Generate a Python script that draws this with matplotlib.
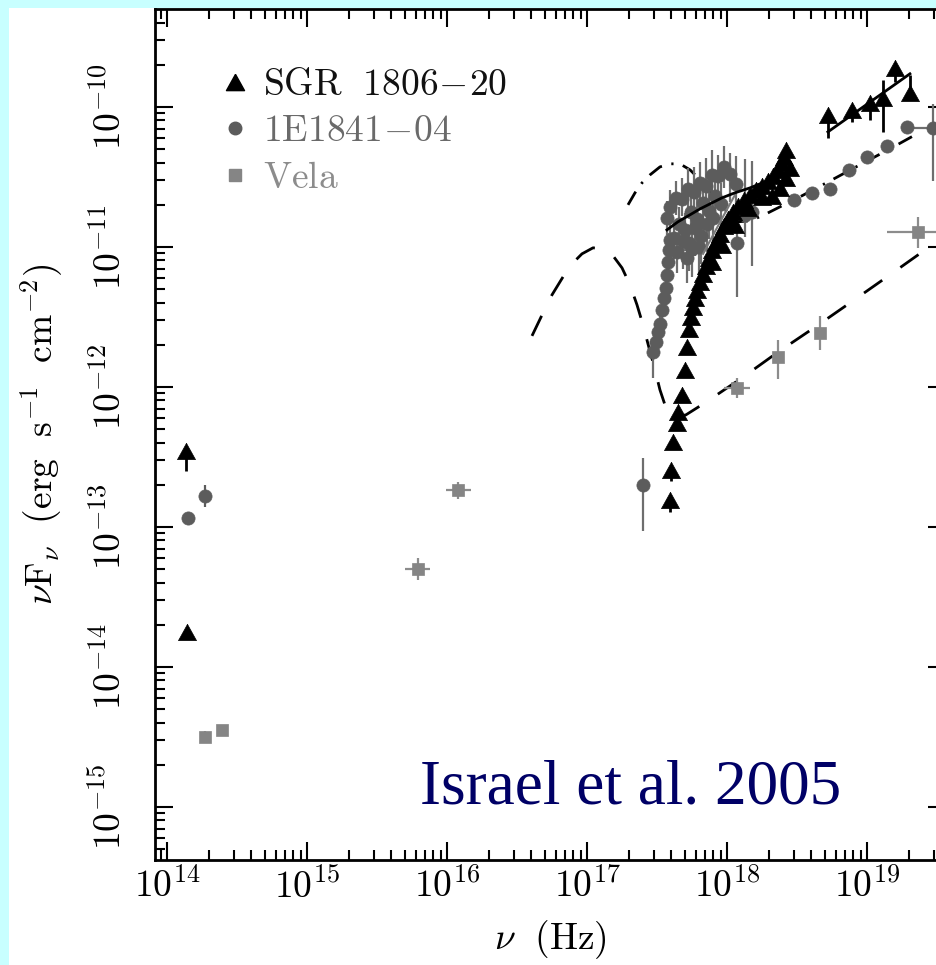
import numpy as np
import matplotlib
matplotlib.use('Agg')
import matplotlib.pyplot as plt
from matplotlib.lines import Line2D
from matplotlib.patches import Rectangle
from matplotlib.ticker import FixedLocator, FuncFormatter, NullFormatter

plt.rcParams['mathtext.fontset'] = 'cm'

# all values as log10(nu / Hz) and log10(nuFnu / erg s^-1 cm^-2); errors in dex

# ---- SGR 1806-20 ----
sgr_ir_lognu = [14.136, 14.143]
sgr_ir_logf = [-12.46, -13.75]
sgr_ir_dlo = [0.14, 0.02]
sgr_ir_dhi = [0.03, 0.02]

sgr_x_lognu = [17.593, 17.600, 17.614, 17.643, 17.650, 17.679, 17.700, 17.714,
               17.729, 17.743, 17.757, 17.771, 17.786, 17.807, 17.829, 17.850,
               17.871, 17.893, 17.921, 17.950, 17.979, 18.007, 18.043, 18.079,
               18.121, 18.164, 18.207, 18.250, 18.293, 18.329, 18.364, 18.386,
               18.407, 18.421, 18.321, 18.379, 18.421, 18.450,
               17.893, 17.964, 18.057, 18.150, 18.250]
sgr_x_logf = [-12.807, -12.593, -12.393, -12.257, -12.179, -12.057, -11.879, -11.714,
              -11.586, -11.500, -11.429, -11.364, -11.307, -11.250, -11.193, -11.136,
              -11.079, -11.021, -10.964, -10.907, -10.850, -10.800, -10.750, -10.707,
              -10.664, -10.629, -10.593, -10.564, -10.529, -10.493, -10.450, -10.400,
              -10.357, -10.307, -10.636, -10.579, -10.507, -10.436,
              -11.107, -10.986, -10.843, -10.721, -10.643]

sgr_hard_lognu = [18.721, 18.893, 19.021, 19.114, 19.200, 19.307]
sgr_hard_logf = [-10.057, -10.021, -9.971, -9.936, -9.721, -9.900]
sgr_hard_dlo = [0.164, 0.086, 0.121, 0.243, 0.100, 0.050]
sgr_hard_dhi = [0.036, 0.030, 0.030, 0.129, 0.030, 0.129]

sgr_pl_lognu = [18.721, 19.307]
sgr_pl_logf = [-10.179, -9.764]

# ---- 1E1841-04 ----
axp_ir_lognu = [14.150, 14.270]
axp_ir_logf = [-12.936, -12.779]
axp_ir_dlo = [0.03, 0.08]
axp_ir_dhi = [0.03, 0.08]

axp_x_lognu = [17.400,
               17.471, 17.493, 17.507, 17.521, 17.536, 17.550, 17.564, 17.571, 17.579, 17.586, 17.593,
               17.593, 17.636, 17.679, 17.721, 17.764, 17.807, 17.850, 17.893, 17.936, 17.979, 18.021, 18.064,
               17.571, 17.621, 17.657, 17.700, 17.743, 17.786, 17.829, 17.871, 17.914, 17.957,
               17.729, 17.771, 17.814, 17.857, 17.900, 17.643, 17.686, 17.714, 17.750, 17.800,
               18.071, 18.129, 18.179]
axp_x_logf = [-12.700,
              -11.750, -11.679, -11.607, -11.550, -11.450, -11.364, -11.293, -11.200, -11.107, -11.021, -10.950,
              -10.714, -10.650, -10.657, -10.586, -10.607, -10.543, -10.564, -10.486, -10.493, -10.429, -10.479, -10.550,
              -10.793, -10.936, -10.836, -10.879, -10.750, -10.800, -10.686, -10.743, -10.636, -10.693,
              -10.971, -10.864, -10.921, -10.836, -10.793, -11.036, -10.957, -11.079, -11.014, -11.000,
              -10.971, -10.771, -10.750]
axp_x_dlo = [0.33,
             0.19, 0.10, 0.10, 0.10, 0.12, 0.10, 0.12, 0.10, 0.12, 0.12, 0.12,
             0.12, 0.12, 0.12, 0.15, 0.15, 0.18, 0.20, 0.20, 0.15, 0.15, 0.20, 0.25,
             0.12, 0.15, 0.15, 0.15, 0.15, 0.18, 0.20, 0.20, 0.18, 0.20,
             0.20, 0.20, 0.20, 0.20, 0.20, 0.15, 0.20, 0.18, 0.20, 0.25,
             0.39, 0.16, 0.39]
axp_x_dhi = [0.19,
             0.09, 0.08, 0.08, 0.08, 0.10, 0.08, 0.10, 0.10, 0.10, 0.12, 0.12,
             0.12, 0.12, 0.15, 0.15, 0.18, 0.15, 0.20, 0.18, 0.15, 0.15, 0.15, 0.20,
             0.12, 0.12, 0.12, 0.12, 0.15, 0.15, 0.15, 0.15, 0.15, 0.15,
             0.12, 0.12, 0.15, 0.15, 0.15, 0.12, 0.12, 0.12, 0.12, 0.12,
             0.10, 0.40, 0.36]

axp_hard_lognu = [18.479, 18.607, 18.736, 18.871, 19.000, 19.143, 19.286, 19.471]
axp_hard_logf = [-10.664, -10.614, -10.586, -10.450, -10.357, -10.279, -10.143, -10.150]
axp_hard_dlo = [0.03, 0.03, 0.03, 0.03, 0.03, 0.03, 0.03, 0.38]
axp_hard_dhi = [0.03, 0.03, 0.03, 0.03, 0.03, 0.03, 0.03, 0.17]
axp_hard_dnu = [0.0, 0.0, 0.0, 0.0, 0.0, 0.0, 0.0, 0.15]

# ---- Vela ----
vela_lognu = [14.270, 14.390, 15.790, 16.080, 18.071, 18.364, 18.664, 19.364]
vela_logf = [-14.500, -14.450, -13.300, -12.740, -12.007, -11.786, -11.614, -10.893]
vela_dlo = [0.04, 0.03, 0.08, 0.06, 0.07, 0.16, 0.12, 0.114]
vela_dhi = [0.04, 0.03, 0.08, 0.06, 0.07, 0.12, 0.12, 0.107]
vela_dnu = [0.03, 0.03, 0.09, 0.09, 0.09, 0.03, 0.03, 0.22]

# ---- model curves ----
sgr_fit_lognu = [17.571, 17.650, 17.736, 17.807, 17.879, 17.964, 18.057, 18.164, 18.271, 18.379]
sgr_fit_logf = [-10.879, -10.821, -10.771, -10.729, -10.693, -10.650, -10.614, -10.579, -10.536, -10.486]

sgr_soft_lognu = [17.829, 17.893, 17.979, 18.057]
sgr_soft_logf = [-11.050, -10.930, -10.771, -10.629]

axp_mod_lognu = [17.293, 17.343, 17.393, 17.450, 17.521, 17.593, 17.664, 17.736, 17.807,
                 17.893, 17.986, 18.079, 18.164, 18.250, 18.379, 18.521, 18.736, 18.950,
                 19.164, 19.357]
axp_mod_logf = [-10.700, -10.614, -10.543, -10.486, -10.429, -10.407, -10.407, -10.450, -10.521,
                -10.629, -10.736, -10.821, -10.814, -10.779, -10.714, -10.643, -10.529, -10.414,
                -10.300, -10.193]

vela_mod_lognu = [16.607, 16.679, 16.750, 16.829, 16.893, 16.964, 17.043, 17.114, 17.186,
                  17.250, 17.307, 17.357, 17.400, 17.443, 17.486, 17.521, 17.557, 17.593,
                  17.636, 17.707, 17.843, 18.107, 18.357, 18.643, 18.879, 19.164, 19.436,
                  19.600]
vela_mod_logf = [-11.636, -11.486, -11.343, -11.214, -11.121, -11.050, -11.007, -11.014, -11.064,
                 -11.150, -11.271, -11.414, -11.557, -11.721, -11.879, -12.021, -12.129, -12.193,
                 -12.214, -12.200, -12.114, -11.936, -11.757, -11.564, -11.400, -11.200, -11.007,
                 -11.000]

c_sgr = 'black'
c_axp = '#5c5c5c'
c_vela = '#858585'


def lin(a):
    return 10.0 ** np.asarray(a, dtype=float)


def points(ax, lognu, logf, dlo, dhi, dnu, color, marker, ms, ecolor, elw, z):
    lognu = np.asarray(lognu, dtype=float)
    logf = np.asarray(logf, dtype=float)
    nu, f = lin(lognu), lin(logf)
    yerr = [f - lin(logf - np.asarray(dlo)), lin(logf + np.asarray(dhi)) - f]
    xerr = None
    if dnu is not None:
        dnu = np.asarray(dnu, dtype=float)
        xerr = [nu - lin(lognu - dnu), lin(lognu + dnu) - nu]
    ax.errorbar(nu, f, yerr=yerr, xerr=xerr, fmt='none', ecolor=ecolor,
                elinewidth=elw, capsize=0, zorder=z)
    ax.plot(nu, f, ls='none', marker=marker, ms=ms, color=color,
            mec=color, mew=0.5, zorder=z + 0.5)


tri = [(0, 0.9), (-1, -0.9), (1, -0.9), (0, 0.9)]

fig = plt.figure(figsize=(9.37, 9.65), dpi=100)
fig.patch.set_facecolor('#c8ffff')
fig.patches.append(Rectangle((9 / 937, 0), 1, 1 - 8 / 965, transform=fig.transFigure,
                             facecolor='white', edgecolor='none', zorder=-10))

ax = fig.add_axes([155 / 937, 1 - 860 / 965, 791 / 937, 851 / 965])
ax.set_xscale('log')
ax.set_yscale('log')
ax.set_xlim(8.2e13, 3.67e19)
ax.set_ylim(4.17e-16, 5.0e-10)

# models
ax.plot(lin(vela_mod_lognu), lin(vela_mod_logf), color='black', lw=2, dashes=(8, 8), zorder=2)
ax.plot(lin(axp_mod_lognu), lin(axp_mod_logf), color='black', lw=2,
        dashes=(5.5, 3.5, 0.8, 3.5), zorder=2)

# data
points(ax, vela_lognu, vela_logf, vela_dlo, vela_dhi, vela_dnu, c_vela, 's', 9, '#8c8c8c', 1.6, 3)
points(ax, axp_ir_lognu, axp_ir_logf, axp_ir_dlo, axp_ir_dhi, None, c_axp, 'o', 9.5, c_axp, 1.6, 3)
points(ax, axp_x_lognu, axp_x_logf, axp_x_dlo, axp_x_dhi, None, c_axp, 'o', 9.5, '#6e6e6e', 1.6, 3)
points(ax, axp_hard_lognu, axp_hard_logf, axp_hard_dlo, axp_hard_dhi, axp_hard_dnu,
       c_axp, 'o', 9.5, '#6e6e6e', 1.6, 3)

ax.plot(lin(sgr_soft_lognu), lin(sgr_soft_logf), color='#7a7a7a', lw=1.5, zorder=4)
ax.plot(lin(sgr_fit_lognu), lin(sgr_fit_logf), color='black', lw=2, zorder=4.2)

points(ax, sgr_ir_lognu, sgr_ir_logf, sgr_ir_dlo, sgr_ir_dhi, None, c_sgr, tri, 13, c_sgr, 2, 5)
points(ax, sgr_x_lognu, sgr_x_logf, [0.09, 0.08] + [0.03] * (len(sgr_x_logf) - 2),
       [0.02] * len(sgr_x_logf), None, c_sgr, tri, 13, c_sgr, 2, 5)
points(ax, sgr_hard_lognu, sgr_hard_logf, sgr_hard_dlo, sgr_hard_dhi, None, c_sgr, tri, 13, c_sgr, 2, 5)
ax.plot(lin(sgr_pl_lognu), lin(sgr_pl_logf), color='black', lw=2, zorder=6)

# axes styling
for s in ax.spines.values():
    s.set_linewidth(2)
xmaj = [10.0 ** k for k in range(14, 20)]
ymaj = [10.0 ** k for k in range(-15, -9)]
xmin = [m * 10.0 ** k for k in range(13, 20) for m in range(2, 10) if 8.2e13 < m * 10.0 ** k < 3.6e19]
ymin = [m * 10.0 ** k for k in range(-16, -9) for m in range(2, 10) if 4.2e-16 < m * 10.0 ** k < 4.9e-10]
ax.xaxis.set_major_locator(FixedLocator(xmaj))
ax.yaxis.set_major_locator(FixedLocator(ymaj))
ax.xaxis.set_minor_locator(FixedLocator(xmin))
ax.yaxis.set_minor_locator(FixedLocator(ymin))
powfmt = FuncFormatter(lambda v, p: r'$10^{%d}$' % int(round(np.log10(v))))
ax.xaxis.set_major_formatter(powfmt)
ax.yaxis.set_major_formatter(powfmt)
ax.xaxis.set_minor_formatter(NullFormatter())
ax.yaxis.set_minor_formatter(NullFormatter())
ax.tick_params(which='both', direction='in', top=True, right=True, width=1.5, labelsize=27)
ax.tick_params(which='major', length=13)
ax.tick_params(which='minor', length=7)
ax.tick_params(axis='x', pad=6)
ax.tick_params(axis='y', pad=19, labelrotation=90)
for lbl in ax.get_yticklabels():
    lbl.set_va('center')

ax.set_xlabel(r'$\nu\ \ \mathrm{(Hz)}$', fontsize=27, labelpad=9)
ax.set_ylabel(r'$\nu\mathrm{F}_\nu\ \ \mathrm{(erg\ \ s^{-1}\ \ cm^{-2})}$', fontsize=27, labelpad=19)

handles = [Line2D([], [], ls='none', marker=tri, ms=13, color=c_sgr),
           Line2D([], [], ls='none', marker='o', ms=9, color=c_axp),
           Line2D([], [], ls='none', marker='s', ms=8, color=c_vela)]
labels = [r'$\mathrm{SGR\ \ 1806\!-\!20}$', r'$\mathrm{1E1841\!-\!04}$', r'$\mathrm{Vela}$']
leg = ax.legend(handles, labels, loc='upper left', bbox_to_anchor=(0.085, 0.932),
                frameon=False, fontsize=27, handlelength=0.7, handletextpad=0.4,
                labelspacing=0.28, borderpad=0, borderaxespad=0)
for txt, c in zip(leg.get_texts(), ['#111111', '#6a6a6a', '#8c8c8c']):
    txt.set_color(c)

fig.text(420 / 937, 1 - 803 / 965, 'Israel et al. 2005', fontsize=45.5,
         family='Liberation Serif', color='#000066', va='baseline', ha='left')

fig.savefig('out.png', dpi=100, facecolor=fig.get_facecolor())
